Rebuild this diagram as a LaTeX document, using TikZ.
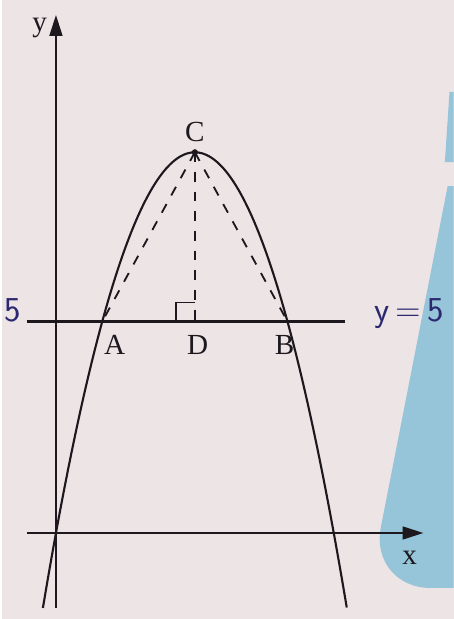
\documentclass[tikz,border=0pt]{standalone}
\usepackage{fontspec}
\setmainfont{Liberation Serif}
\usepackage{tikz}
\usetikzlibrary{arrows.meta,positioning,calc}
\definecolor{paper}{RGB}{236,228,229}
\definecolor{panel}{RGB}{150,196,216}
\definecolor{ink}{RGB}{28,24,30}
\definecolor{pen}{RGB}{44,40,112}

\begin{document}
\begin{tikzpicture}[x=1.158cm, y=1.058cm,
    every node/.style={text=ink},
    axis/.style={ink, line width=1.9pt, -{Triangle[length=15pt,width=9pt]}},
    curve/.style={ink, line width=1.5pt},
    guide/.style={ink, line width=1.3pt, dash pattern=on 7pt off 7pt},
    lab/.style={font=\huge},
    hand/.style={text=pen, font=\Huge\sffamily}
]
  % paper and the blue panel behind
  \fill[paper] (-1.166,-2.033) rectangle (8.59,12.6);
  \fill[panel] (8.50,10.43) -- (8.59,10.43) -- (8.59,8.77) -- (8.40,8.77) -- cycle;
  \fill[panel] (8.59,8.2) -- (8.46,8.2) [rounded corners=44pt] -- (6.76,-1.30) [sharp corners] -- (8.59,-1.30) -- cycle;

  % axes
  \coordinate (ybot) at (0,-1.77);
  \coordinate (ytop) at (0,12.25);
  \coordinate (xl) at (-0.63,0);
  \coordinate (xr) at (7.94,0);
  \draw[axis] (ybot) -- (ytop);
  \draw[axis] (xl) -- (xr);
  \node[lab] (ylab) at (-0.35,11.94) {y};
  \node[lab] (xlab) at (7.64,-0.59) {x};

  % the curve
  \draw[curve] plot[domain=-0.282:6.282, samples=120, smooth] (\x,{6*\x-\x*\x});

  % line y = 5
  \coordinate (L5) at (-0.63,5);
  \coordinate (R5) at (6.24,5);
  \draw[curve] (L5) -- (R5);

  \coordinate (A) at (1,5);
  \coordinate (B) at (5,5);
  \coordinate (C) at (3,9);
  \coordinate (D) at (3,5);

  \draw[guide] (C) -- (A);
  \draw[guide] (C) -- (D);
  \draw[guide] (C) -- (B);
  \fill[ink] (C) circle (2.2pt);
  \draw[ink, line width=1.2pt] ($(D)+(-0.41,0)$) |- ($(D)+(0,0.45)$);

  \node[lab] (labA) at (1.27,4.44) {A};
  \node[lab] (labD) at (3.06,4.44) {D};
  \node[lab] (labB) at (4.94,4.44) {B};
  \node[lab] (labC) at (3.0,9.48) {C};

  % pen marks
  \node[hand, anchor=base] (five) at (-0.93,5.0) {5};
  \node[hand, anchor=base west] (eq) at (6.78,5.0) {y\,=\,5};
\end{tikzpicture}
\end{document}
